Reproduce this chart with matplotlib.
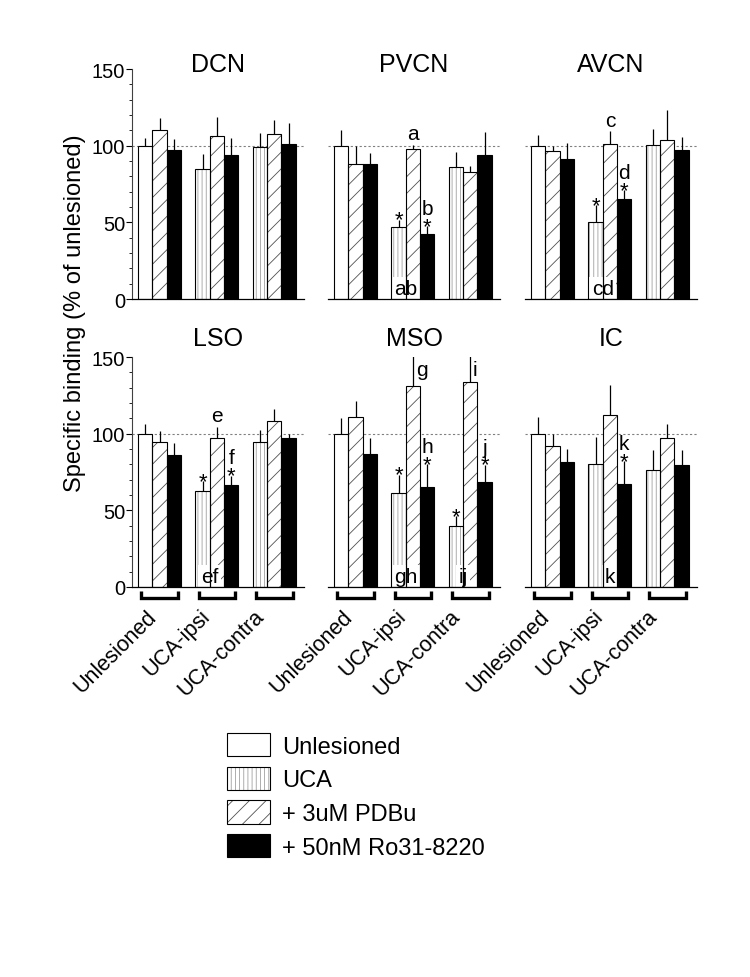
import numpy as np
import matplotlib
matplotlib.use('Agg')
import matplotlib.pyplot as plt
import matplotlib.transforms as mtransforms
from matplotlib.patches import Patch
from matplotlib.ticker import MultipleLocator

plt.rcParams['font.family'] = ['Liberation Sans', 'DejaVu Sans']
plt.rcParams['hatch.linewidth'] = 0.6

regions = ['DCN', 'PVCN', 'AVCN', 'LSO', 'MSO', 'IC']
groups = ['Unlesioned', 'UCA-ipsi', 'UCA-contra']
legend_labels = ['Unlesioned', 'UCA', '+ 3uM PDBu', '+ 50nM Ro31-8220']

# rows = groups, columns = [control/UCA, + PDBu, + Ro31-8220]
dcn_mean = [[100, 110, 97], [84.5, 106.5, 94], [99, 107.5, 101]]
dcn_err = [[5, 8, 7.5], [10, 12, 11], [9, 9, 14]]
pvcn_mean = [[100, 88, 88], [47, 98, 42.5], [86, 83, 94]]
pvcn_err = [[10, 12, 7.5], [4.5, 2.5, 5], [10, 4, 15]]
avcn_mean = [[100, 96.5, 91.5], [50.5, 101, 65.5], [100.5, 103.5, 97]]
avcn_err = [[7, 3.5, 10], [10.5, 8.5, 5.5], [10.5, 20, 8.5]]
lso_mean = [[100, 94.5, 86], [62.5, 97, 66.5], [94.5, 108.5, 97]]
lso_err = [[6, 7.5, 8], [6.5, 7.5, 6], [8, 7.5, 3]]
mso_mean = [[100, 111, 86.5], [61, 131, 65], [40, 133.5, 68.5]]
mso_err = [[10, 10, 10.5], [12, 20, 15], [6, 18, 11]]
ic_mean = [[100, 92, 81.5], [80, 112, 67], [76, 97.5, 79.5]]
ic_err = [[11, 8, 8.5], [18, 19.5, 15], [13.5, 9, 10]]

means = dict(zip(regions, [dcn_mean, pvcn_mean, avcn_mean, lso_mean, mso_mean, ic_mean]))
errs = dict(zip(regions, [dcn_err, pvcn_err, avcn_err, lso_err, mso_err, ic_err]))

# significance marks: (region, group, bar)
stars = [('PVCN', 1, 0), ('PVCN', 1, 2), ('AVCN', 1, 0), ('AVCN', 1, 2),
         ('LSO', 1, 0), ('LSO', 1, 2), ('MSO', 1, 0), ('MSO', 1, 2),
         ('MSO', 2, 0), ('MSO', 2, 2), ('IC', 1, 2)]
top_letters = [('PVCN', 1, 1, 'a'), ('PVCN', 1, 2, 'b'), ('AVCN', 1, 1, 'c'),
               ('AVCN', 1, 2, 'd'), ('LSO', 1, 1, 'e'), ('LSO', 1, 2, 'f'),
               ('MSO', 1, 1, 'g'), ('MSO', 1, 2, 'h'), ('MSO', 2, 1, 'i'),
               ('MSO', 2, 2, 'j'), ('IC', 1, 2, 'k')]
bottom_letters = [('PVCN', 1, 0.5, 'ab'), ('AVCN', 1, 0.5, 'cd'), ('LSO', 1, 0.5, 'ef'),
                  ('MSO', 1, 0.5, 'gh'), ('MSO', 2, 0.5, 'ij'), ('IC', 1, 1.0, 'k')]

W, H = 750, 978
fig = plt.figure(figsize=(W / 100, H / 100), dpi=100)

col_x = [132, 328, 525]
row_y0 = [300, 588]
pw, ph = 172, 230
title_y = [0.99, 1.05]
w = 0.25
vhatch = '||||'
dhatch = '//'

for i, reg in enumerate(regions):
    r, c = divmod(i, 3)
    ax = fig.add_axes([col_x[c] / W, 1 - row_y0[r] / H, pw / W, ph / H])
    m = means[reg]
    e = errs[reg]

    ax.axhline(100, color='#808080', lw=0.8, ls=(0, (2, 2)), zorder=0.5)

    for g in range(3):
        for t in range(3):
            xp = g + (t - 1) * w
            v = m[g][t]
            if t == 2:
                ax.bar(xp, v, w, color='black', edgecolor='black', linewidth=0.8, zorder=3)
            else:
                if t == 0:
                    h, hc = ('', 'white') if g == 0 else (vhatch, '#a0a0a0')
                else:
                    h, hc = dhatch, '#505050'
                ax.bar(xp, v, w, color='white', edgecolor=hc, linewidth=0, hatch=h, zorder=1)
                ax.bar(xp, v, w, fill=False, edgecolor='black', linewidth=0.8, zorder=3)
            ax.vlines(xp, v, v + e[g][t], color='black', lw=0.9, zorder=2.5)

    starred = set()
    for reg2, g, t in stars:
        if reg2 != reg:
            continue
        starred.add((g, t))
        xp = g + (t - 1) * w
        ax.annotate('*', (xp, m[g][t] + e[g][t]), xytext=(0, -4), textcoords='offset points',
                    ha='center', va='baseline', fontsize=16, zorder=4, annotation_clip=False)

    for reg2, g, t, txt in top_letters:
        if reg2 != reg:
            continue
        xp = g + (t - 1) * w
        top = m[g][t] + e[g][t]
        if top > 140:
            ax.annotate(txt, (xp, 150), xytext=(2, -2), textcoords='offset points',
                        ha='left', va='top', fontsize=15, zorder=4, annotation_clip=False)
        else:
            off = 9 if (g, t) in starred else 4
            ax.annotate(txt, (xp, top), xytext=(0, off), textcoords='offset points',
                        ha='center', va='baseline', fontsize=15, zorder=4, annotation_clip=False)

    for reg2, g, pos, txt in bottom_letters:
        if reg2 != reg:
            continue
        xp = g + (pos - 1) * w
        ax.annotate(txt, (xp, 0), xytext=(0, 3.5), textcoords='offset points',
                    ha='center', va='baseline', fontsize=15, zorder=2,
                    bbox=dict(boxstyle='square,pad=0.12', fc='white', ec='none'))

    ax.set_xlim(-0.48, 2.52)
    ax.set_ylim(0, 150)
    ax.set_xticks([])
    for s in ['top', 'right']:
        ax.spines[s].set_visible(False)
    ax.spines['bottom'].set_linewidth(0.9)
    ax.spines['bottom'].set_zorder(5)

    if c == 0:
        ax.set_yticks([0, 50, 100, 150])
        ax.yaxis.set_minor_locator(MultipleLocator(10))
        ax.tick_params(axis='y', which='major', length=4, width=0.8, pad=1, labelsize=14.5)
        ax.tick_params(axis='y', which='minor', length=2.5, width=0.6)
        ax.spines['left'].set_linewidth(0.8)
        ax.spines['left'].set_color('#404040')
    else:
        ax.spines['left'].set_visible(False)
        ax.tick_params(axis='y', which='both', left=False, labelleft=False)

    ax.text(0.5, title_y[r], reg, transform=ax.transAxes, ha='center', va='baseline', fontsize=18)

    if r == 1:
        trans = mtransforms.blended_transform_factory(ax.transData, ax.transAxes)
        for g in range(3):
            ax.plot([g - 0.32, g - 0.32, g + 0.32, g + 0.32], [-0.018, -0.047, -0.047, -0.018],
                    transform=trans, color='black', lw=2.4, clip_on=False,
                    solid_joinstyle='miter', solid_capstyle='butt')
            ax.text(g - 0.06 * g + 0.02, -0.08, groups[g], transform=trans, rotation=45,
                    ha='right', va='top', fontsize=15.5)

fig.text(75 / W, 1 - 313 / H, 'Specific binding (% of unlesioned)', rotation=90,
         ha='center', va='center', fontsize=17)

handles = [
    (Patch(facecolor='white', edgecolor='white', linewidth=0),
     Patch(fill=False, edgecolor='black', linewidth=0.8)),
    (Patch(facecolor='white', edgecolor='#a0a0a0', linewidth=0, hatch=vhatch),
     Patch(fill=False, edgecolor='black', linewidth=0.8)),
    (Patch(facecolor='white', edgecolor='#505050', linewidth=0, hatch=dhatch),
     Patch(fill=False, edgecolor='black', linewidth=0.8)),
    Patch(facecolor='black', edgecolor='black', linewidth=0.8),
]
fig.legend(handles, legend_labels, loc='upper left', bbox_to_anchor=(227 / W, 1 - 734 / H),
           frameon=False, fontsize=17, handlelength=1.8, handleheight=1.15,
           labelspacing=0.38, handletextpad=0.55, borderpad=0, borderaxespad=0)

fig.savefig('out.png', dpi=100)
